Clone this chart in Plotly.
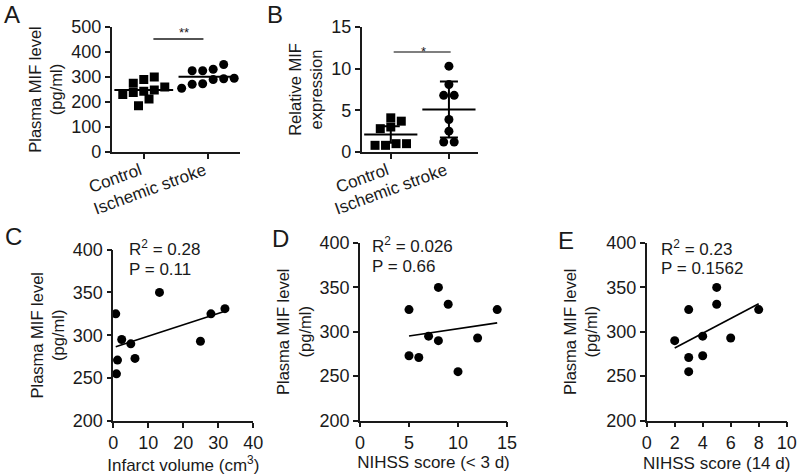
import numpy as np
import plotly.graph_objects as go

W, H = 800, 475
FONT = "Liberation Sans, Arial, sans-serif"
INK = "#1a1a1a"

# ---------------- data ----------------
groups = ["Control", "Ischemic stroke"]
# Panel A: plasma MIF level (pg/ml)
a_control = [300, 290, 275, 260, 248, 243, 238, 230, 212, 185]
a_stroke = [255, 271, 273, 290, 293, 295, 325, 325, 331, 350]
a_sig = "**"
# Panel B: relative MIF expression
b_control = [4.1, 3.7, 3.0, 2.8, 1.0, 0.8, 0.8, 1.0]
b_stroke = [10.3, 8.1, 6.8, 6.8, 3.9, 2.5, 1.2, 1.2]
b_mean = [2.1, 5.1]
b_sd = [1.0, 3.35]
b_sig = "*"
# Panels C-E: per patient (same patients)
mif = [255, 271, 273, 290, 293, 295, 325, 325, 331, 350]
infarct_volume = [0.9, 1.2, 6.2, 5.0, 24.9, 2.4, 0.7, 27.9, 31.9, 13.2]
nihss_3d = [10, 6, 5, 8, 12, 7, 5, 14, 9, 8]
nihss_14d = [3, 3, 4, 2, 6, 4, 3, 8, 5, 5]
stats_c = ["R<sup>2</sup> = 0.28", "P = 0.11"]
stats_d = ["R<sup>2</sup> = 0.026", "P = 0.66"]
stats_e = ["R<sup>2</sup> = 0.23", "P = 0.1562"]

# ---------------- layout geometry (pixels) ----------------
dom = {
    "A": dict(x=(111.7, 240.0), y=(152.0, 27.0)),
    "B": dict(x=(361.7, 478.0), y=(152.0, 27.0)),
    "C": dict(x=(113.3, 253.3), y=(421.0, 249.5)),
    "D": dict(x=(360.0, 507.0), y=(420.5, 243.0)),
    "E": dict(x=(646.7, 786.7), y=(420.5, 243.0)),
}


def xd(p):
    return [dom[p]["x"][0] / W, dom[p]["x"][1] / W]


def yd(p):
    return [1 - dom[p]["y"][0] / H, 1 - dom[p]["y"][1] / H]


def PX(x):
    return x / W


def PY(y):
    return 1 - y / H


def swarm(values, ypx_per_unit, xpx_per_unit, diam=10.5):
    order = sorted(range(len(values)), key=lambda i: values[i])
    rows, cur = [], []
    for i in order:
        if cur and (values[i] - values[cur[0]]) * ypx_per_unit >= diam:
            rows.append(cur)
            cur = []
        cur.append(i)
    rows.append(cur)
    off = [0.0] * len(values)
    for row in rows:
        k = len(row)
        for j, i in enumerate(row):
            off[i] = (j - (k - 1) / 2) * diam / xpx_per_unit
    return off


fig = go.Figure()

# ---------------- Panel A ----------------
a_ypx = (152.0 - 27.0) / 500
a_xpx = (240.0 - 111.7) / 2
for gi, (vals, sym) in enumerate([(a_control, "square"), (a_stroke, "circle")]):
    off = swarm(vals, a_ypx, a_xpx)
    fig.add_trace(go.Scatter(
        x=[gi + o for o in off], y=vals, mode="markers", xaxis="x", yaxis="y",
        marker=dict(symbol=sym, size=9, color="black"), showlegend=False, cliponaxis=False))
fig.add_trace(go.Scatter(
    x=[0, 1], y=[float(np.mean(a_control)), float(np.mean(a_stroke))], mode="markers",
    xaxis="x", yaxis="y",
    marker=dict(symbol="line-ew", size=42, line=dict(width=2, color="black")),
    showlegend=False))

# ---------------- Panel B ----------------
b_ypx = (152.0 - 27.0) / 15
b_xpx = (478.0 - 361.7) / 2
for gi, (vals, sym) in enumerate([(b_control, "square"), (b_stroke, "circle")]):
    off = swarm(vals, b_ypx, b_xpx, diam=10.5)
    fig.add_trace(go.Scatter(
        x=[gi + o for o in off], y=vals, mode="markers", xaxis="x2", yaxis="y2",
        marker=dict(symbol=sym, size=9, color="black"), showlegend=False, cliponaxis=False))
fig.add_trace(go.Scatter(
    x=[0, 1], y=b_mean, mode="markers", xaxis="x2", yaxis="y2",
    marker=dict(symbol="line-ew", size=38, line=dict(width=2, color="black")),
    error_y=dict(type="data", array=b_sd, width=9, thickness=2, color="black"),
    showlegend=False))

# ---------------- Panels C-E ----------------
for xs, ax, ay in [(infarct_volume, "x3", "y3"), (nihss_3d, "x4", "y4"), (nihss_14d, "x5", "y5")]:
    fig.add_trace(go.Scatter(
        x=xs, y=mif, mode="markers", xaxis=ax, yaxis=ay,
        marker=dict(symbol="circle", size=9, color="black"), showlegend=False, cliponaxis=False))
    k, b = np.polyfit(xs, mif, 1)
    lx = [min(xs), max(xs)]
    fig.add_trace(go.Scatter(
        x=lx, y=[k * v + b for v in lx], mode="lines", xaxis=ax, yaxis=ay,
        line=dict(color="black", width=1.6), showlegend=False))

axis_common = dict(
    showline=True, linecolor=INK, linewidth=1.6, ticks="outside", ticklen=5,
    tickwidth=1.6, tickcolor=INK, showgrid=False, zeroline=False, automargin=False,
    tickfont=dict(size=18, color=INK, family=FONT), fixedrange=True)

ytitle = "Plasma MIF level<br>(pg/ml)"
tfont = dict(size=16.5, color=INK, family=FONT)
xtfont = dict(size=17, color=INK, family=FONT)

fig.update_layout(
    width=W, height=H, margin=dict(l=0, r=0, t=0, b=0, autoexpand=False),
    paper_bgcolor="white", plot_bgcolor="white",
    font=dict(family=FONT, color=INK),
    xaxis=dict(domain=xd("A"), range=[-0.5, 1.5], anchor="y", tickvals=[0, 1],
               ticktext=groups, showticklabels=False, **axis_common),
    yaxis=dict(domain=yd("A"), range=[0, 500], anchor="x", tickvals=[0, 100, 200, 300, 400, 500],
               title=dict(text=ytitle, font=tfont, standoff=4), **axis_common),
    xaxis2=dict(domain=xd("B"), range=[-0.5, 1.5], anchor="y2", tickvals=[0, 1],
                ticktext=groups, showticklabels=False, **axis_common),
    yaxis2=dict(domain=yd("B"), range=[0, 15], anchor="x2", tickvals=[0, 5, 10, 15],
                title=dict(text="Relative MIF<br>expression", font=tfont, standoff=4), **axis_common),
    xaxis3=dict(domain=xd("C"), range=[0, 40], anchor="y3", tickvals=[0, 10, 20, 30, 40],
                title=dict(text="Infarct volume (cm<sup>3</sup>)", font=xtfont, standoff=5), **axis_common),
    yaxis3=dict(domain=yd("C"), range=[200, 400], anchor="x3", tickvals=[200, 250, 300, 350, 400],
                title=dict(text=ytitle, font=tfont, standoff=4), **axis_common),
    xaxis4=dict(domain=xd("D"), range=[0, 15], anchor="y4", tickvals=[0, 5, 10, 15],
                title=dict(text="NIHSS score (&lt; 3 d)", font=xtfont, standoff=3), **axis_common),
    yaxis4=dict(domain=yd("D"), range=[200, 400], anchor="x4", tickvals=[200, 250, 300, 350, 400],
                title=dict(text=ytitle, font=tfont, standoff=4), **axis_common),
    xaxis5=dict(domain=xd("E"), range=[0, 10], anchor="y5", tickvals=[0, 2, 4, 6, 8, 10],
                title=dict(text="NIHSS score (14 d)", font=xtfont, standoff=5), **axis_common),
    yaxis5=dict(domain=yd("E"), range=[200, 400], anchor="x5", tickvals=[200, 250, 300, 350, 400],
                title=dict(text=ytitle, font=tfont, standoff=4), **axis_common),
)

# rotated category labels (end of text at the tick, like the reference)
for xa, x0px in [("x", 111.7), ("x2", 361.7)]:
    span = (240.0 - 111.7) if xa == "x" else (478.0 - 361.7)
    for gi, g in enumerate(groups):
        tick_px = x0px + (gi + 0.5) * span / 2
        fig.add_annotation(x=PX(tick_px + 3), y=PY(158), xref="paper", yref="paper",
                           text=g, textangle=-20, showarrow=False,
                           xanchor="right", yanchor="top",
                           font=dict(size=17, color=INK, family=FONT))

# significance bars
fig.add_shape(type="line", xref="x", yref="y", x0=0.15, x1=0.93, y0=452, y1=452,
              line=dict(color=INK, width=1.5))
fig.add_shape(type="line", xref="x2", yref="y2", x0=0.05, x1=1.03, y0=12, y1=12,
              line=dict(color="#555", width=1.5))
fig.add_annotation(x=PX(177), y=PY(23), xref="paper", yref="paper", text=a_sig, showarrow=False,
                   font=dict(size=13, color=INK, family=FONT))
fig.add_annotation(x=PX(423), y=PY(42), xref="paper", yref="paper", text=b_sig, showarrow=False,
                   font=dict(size=13, color=INK, family=FONT))

# statistics text
for (xl, y1, y2, lines) in [
    (127, 248, 269, stats_c),
    (370, 245, 266.5, stats_d),
    (659, 248, 268.5, stats_e),
]:
    for yy, t in zip([y1, y2], lines):
        fig.add_annotation(x=PX(xl), y=PY(yy), xref="paper", yref="paper", text=t,
                           showarrow=False, xanchor="left", yanchor="middle",
                           font=dict(size=17, color=INK, family=FONT))

# panel letters
for lab, px, py in [("A", 12, 15), ("B", 275, 14), ("C", 13, 237), ("D", 280, 238), ("E", 566, 240)]:
    fig.add_annotation(x=PX(px), y=PY(py), xref="paper", yref="paper", text=lab,
                       showarrow=False, xanchor="center", yanchor="middle",
                       font=dict(size=24, color=INK, family=FONT))

# the page is photographed at exactly the figure size: drop the default body margin
fig.write_html("out.html", config={"displayModeBar": False},
               post_script="document.body.style.margin='0';")
